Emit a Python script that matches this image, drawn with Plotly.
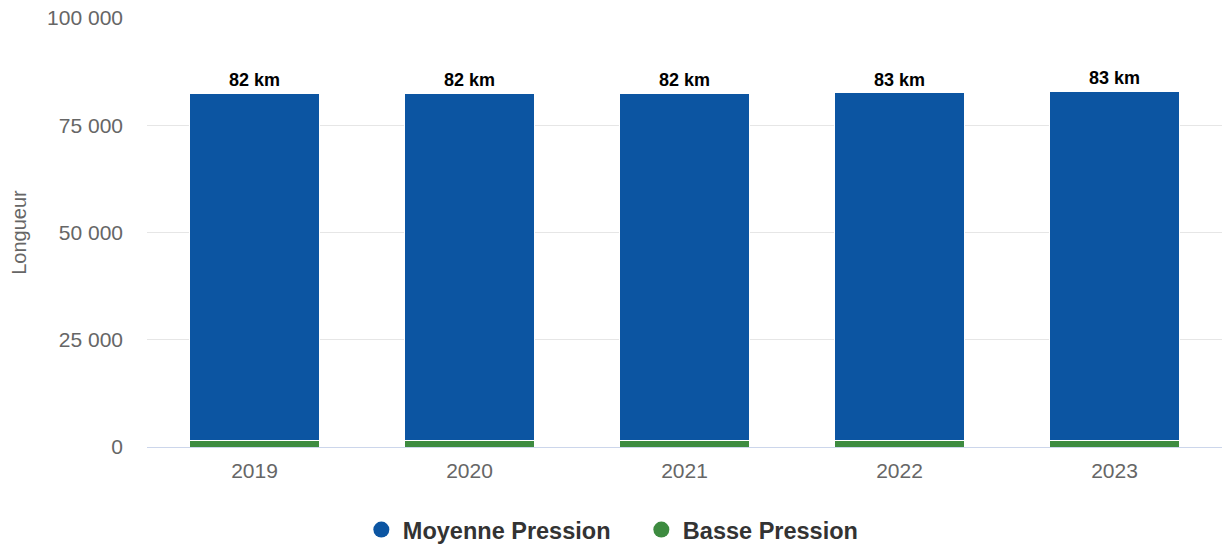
import plotly.graph_objects as go

years = ["2019", "2020", "2021", "2022", "2023"]
moyenne = [80990, 81000, 81010, 81050, 81480]
basse = [1480, 1480, 1480, 1480, 1480]
y_ticks = [0, 25000, 50000, 75000, 100000]

series_names = ["Moyenne Pression", "Basse Pression"]
series_colors = ["#0c55a2", "#3d8b40"]

totals = [m + b for m, b in zip(moyenne, basse)]
labels = [f"{round(t / 1000)} km" for t in totals]

FONT = "Arial, Liberation Sans, Helvetica, sans-serif"

fig = go.Figure()
fig.add_trace(go.Bar(
    x=years, y=basse, name=series_names[1],
    marker=dict(color=series_colors[1], line=dict(color="white", width=1)),
    showlegend=False,
))
fig.add_trace(go.Bar(
    x=years, y=moyenne, name=series_names[0],
    marker=dict(color=series_colors[0], line=dict(color="white", width=1)),
    text=labels, textposition="outside", cliponaxis=False,
    outsidetextfont=dict(family=FONT, size=18, color="#000000", weight="bold"),
    showlegend=False,
))
# legend entries with circle symbols
for name, color in zip(series_names, series_colors):
    fig.add_trace(go.Scatter(
        x=[None], y=[None], mode="markers", name=name,
        marker=dict(symbol="circle", size=16, color=color),
        showlegend=True, hoverinfo="skip",
    ))

fig.update_layout(
    barmode="stack",
    bargap=0.395,
    width=1226, height=545,
    margin=dict(l=147, r=4, t=18, b=98, autoexpand=False),
    paper_bgcolor="white", plot_bgcolor="white",
    separators=", ",
    font=dict(family=FONT, color="#666666"),
    showlegend=True,
    legend=dict(
        orientation="h", x=0.198, xanchor="left", y=-0.193, yanchor="middle",
        traceorder="normal", entrywidth=232, entrywidthmode="pixels",
        font=dict(family=FONT, size=23.5, color="#333333", weight="bold"),
        itemsizing="trace", itemwidth=33,
    ),
    xaxis=dict(
        showgrid=False, showline=True, linecolor="#ccd6eb", linewidth=1,
        ticks="", tickfont=dict(size=21, color="#666666"), ticklabelstandoff=5,
    ),
    yaxis=dict(
        range=[0, 100000], tickvals=y_ticks, tickformat=",d",
        showgrid=True, gridcolor="#e6e6e6", gridwidth=1, zeroline=False,
        ticks="", tickfont=dict(size=21, color="#666666"), ticklabelstandoff=23,
        ticklabeloverflow="allow",
        title=dict(text="Longueur", font=dict(size=20, color="#666666"), standoff=15),
    ),
)

fig.write_html("out.html", config={"displayModeBar": False},
               post_script="document.body.style.margin='0px';")
